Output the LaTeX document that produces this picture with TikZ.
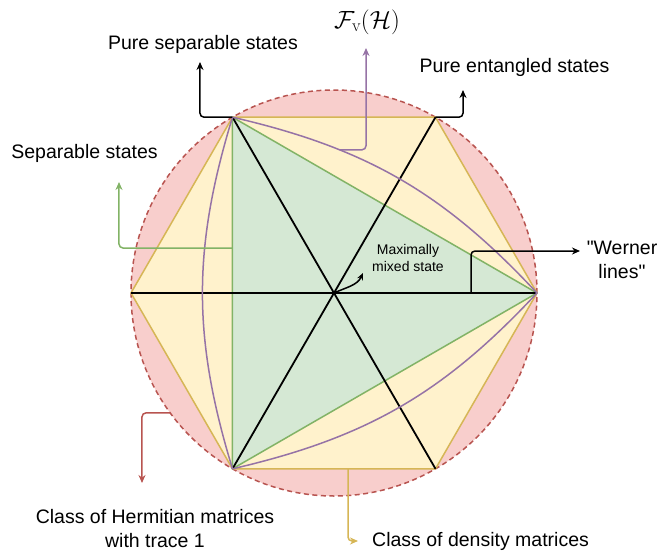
\documentclass[tikz,border=0pt]{standalone}
\usepackage{fontspec}
\setmainfont{Liberation Sans}
\setmathrm{Latin Modern Roman}
\usepackage{tikz}
\usetikzlibrary{arrows.meta, positioning, calc}
\definecolor{HermRed}{HTML}{B85450}
\definecolor{HermFill}{HTML}{F8CECC}
\definecolor{DensYellow}{HTML}{D6B656}
\definecolor{DensFill}{HTML}{FFF2CC}
\definecolor{SepGreen}{HTML}{82B366}
\definecolor{SepFill}{HTML}{D5E8D4}
\definecolor{FvPurple}{HTML}{9673A6}
\newcommand{\dq}{\XeTeXglyph\XeTeXcharglyph"22\relax}
\tikzset{
    lbl/.style={font=\fontsize{19.5}{23.5}\selectfont, align=center, inner sep=0pt},
    smalllbl/.style={font=\fontsize{14}{16.5}\selectfont, align=center, inner sep=0pt},
    arr/.style={-{Stealth[length=8pt, width=7pt]}, line width=1.5pt, rounded corners=4pt},
    edge/.style={line width=1.5pt, line join=round},
    axis/.style={line width=1.8pt, black}
}

\begin{document}
\begin{tikzpicture}[x=1pt, y=1pt]
    \useasboundingbox (-334,-257) rectangle (324,293);

    \coordinate (O) at (0,0);
    \foreach \a/\n in {0/A, 60/B, 120/C, 180/D, 240/E, 300/F}
      \coordinate (\n) at (\a:203);

    % regions
    \draw[edge, fill=HermFill, draw=HermRed, dash pattern=on 5pt off 3.5pt] (O) circle (203);
    \draw[edge, fill=DensFill, draw=DensYellow] (A) -- (B) -- (C) -- (D) -- (E) -- (F) -- cycle;
    \draw[edge, fill=SepFill, draw=SepGreen] (C) -- (A) -- (E) -- cycle;

    \draw[axis] (D) -- (A);
    \draw[axis] (C) -- (F);
    \draw[axis] (B) -- (E);

    \draw[edge, FvPurple] (C) to[bend left=17] coordinate[pos=0.3] (fvFoot) (A)
      to[bend left=17] (E) to[bend left=17] (C);

    % labels
    \node[lbl] (pureSep) at (-131,249) {Pure separable states};
    \node[lbl] (fv) at (33,271) {\fontsize{25}{30}\selectfont$\mathcal{F}_{\mathrm{v}}(\mathcal{H})$};
    \node[lbl] (pureEnt) at (180.5,226) {Pure entangled states};
    \node[lbl] (sepStates) at (-249.5,140) {Separable states};
    \node[smalllbl] (mixed) at (74,35) {Maximally\\mixed state};
    \node[lbl] (werner) at (288,33) {\dq Werner\\lines\dq};
    \node[lbl] (herm) at (-179,-235.5) {Class of Hermitian matrices\\with trace 1};
    \node[lbl, anchor=west] (dens) at (38,-248) {Class of density matrices};

    % arrow ends
    \coordinate (pssTip) at (-134,231);
    \coordinate (fvTip) at (32,245);
    \coordinate (pesTip) at (129,203);
    \coordinate (sepFoot) at (-101.5,45);
    \coordinate (sepTip) at (-215,111);
    \coordinate (mmsTip) at (29,20);
    \coordinate (wFoot) at (137,0);
    \coordinate (wTip) at (246,42);
    \coordinate (hermFoot) at (216.2:203);
    \coordinate (hermTip) at (-192,-190);
    \coordinate (densFoot) at (14,-175.8);
    \coordinate (densTip) at (24,-248);

    \draw[arr] (C) -| (pssTip);
    \draw[arr, FvPurple] (fvFoot) -| (fvTip);
    \draw[arr] (B) -| (pesTip);
    \draw[arr, SepGreen] (sepFoot) -| (sepTip);
    \draw[arr, -{Stealth[length=7pt, width=6pt]}] (O) to[out=25, in=-115] (mmsTip);
    \draw[arr] (wFoot) |- (wTip);
    \draw[arr, HermRed] (hermFoot) -| (hermTip);
    \draw[arr, DensYellow] (densFoot) |- (densTip);
  \end{tikzpicture}
\end{document}
